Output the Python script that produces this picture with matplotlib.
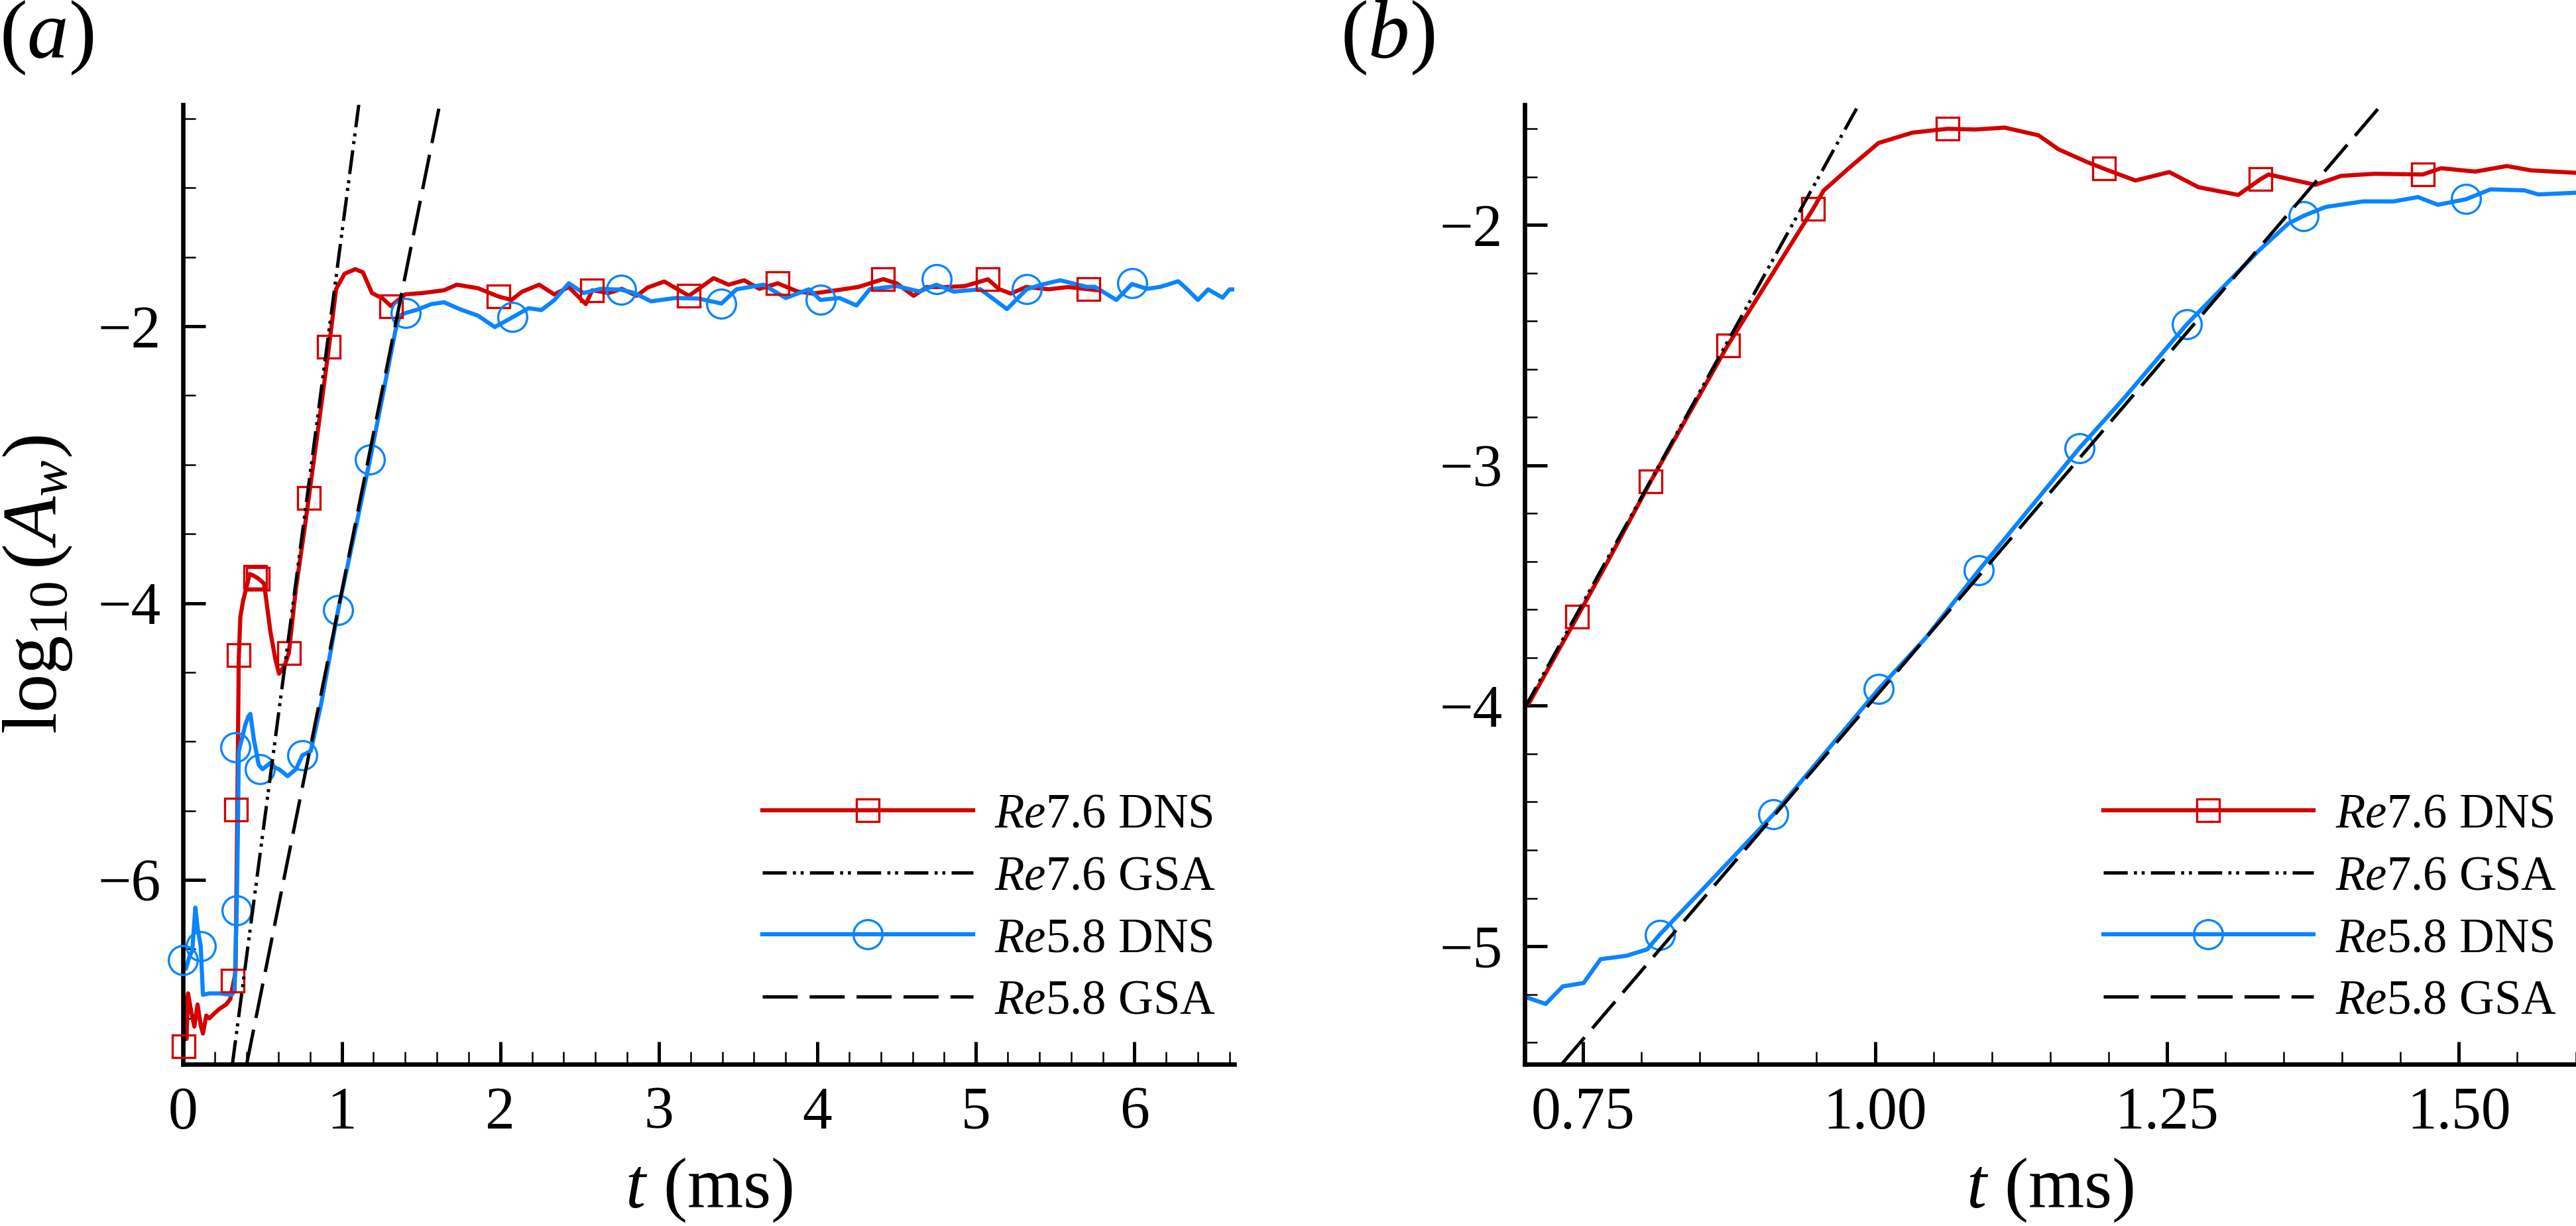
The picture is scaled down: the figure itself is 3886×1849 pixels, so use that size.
import matplotlib
matplotlib.use("Agg")
import matplotlib.pyplot as plt
from matplotlib.lines import Line2D
from matplotlib.ticker import MultipleLocator, FormatStrFormatter


# --- Style ---
plt.rcParams['font.family'] = ['Liberation Serif', 'DejaVu Serif']
plt.rcParams['mathtext.fontset'] = 'custom'
plt.rcParams['mathtext.rm'] = 'Liberation Serif'
plt.rcParams['mathtext.it'] = 'Liberation Serif:italic'
plt.rcParams['lines.scale_dashes'] = False

RED = '#d20000'
BLUE = '#0a84ff'
DASHDOTDOT = (0, (8.7, 2.25, 1.1, 1.7, 1.1, 2.25))
DASHED = (0, (12.7, 4.3))

# --- Data: panel (a) ---
re76_t_a = [0.0, 0.01, 0.02, 0.03, 0.05, 0.07, 0.09, 0.11, 0.124, 0.145, 0.164,
            0.20, 0.23, 0.27, 0.297, 0.31, 0.324, 0.33, 0.34, 0.35, 0.36, 0.377,
            0.40, 0.418, 0.44, 0.47, 0.51, 0.55, 0.58, 0.604, 0.64, 0.666, 0.711,
            0.764, 0.791, 0.86, 0.919, 0.964, 1.018, 1.085, 1.133, 1.19, 1.258,
            1.31, 1.40, 1.51, 1.645, 1.725, 1.858, 1.99, 2.07, 2.138, 2.245, 2.34,
            2.432, 2.539, 2.58, 2.684, 2.766, 2.86, 2.93, 3.034, 3.19, 3.345, 3.44,
            3.538, 3.634, 3.75, 3.875, 3.97, 4.163, 4.259, 4.415, 4.50, 4.607, 4.69,
            4.81, 4.93, 5.076, 5.148, 5.22, 5.316, 5.46, 5.58, 5.712, 5.77]
re76_v_a = [-7.22, -6.85, -7.15, -6.82, -6.95, -7.06, -6.90, -7.05, -7.11, -6.98, -7.00,
            -6.96, -6.93, -6.90, -6.86, -6.78, -6.70, -6.65, -5.60, -4.40, -4.10, -3.985,
            -3.88, -3.79, -3.80, -3.82, -3.86, -4.21, -4.40, -4.51, -4.45, -4.36, -3.89,
            -3.47, -3.243, -2.66, -2.149, -1.731, -1.62, -1.588, -1.61, -1.76, -1.80,
            -1.854, -1.77, -1.76, -1.74, -1.70, -1.725, -1.786, -1.81, -1.75, -1.70, -1.77,
            -1.717, -1.84, -1.74, -1.76, -1.73, -1.78, -1.72, -1.677, -1.78, -1.653, -1.70,
            -1.668, -1.73, -1.69, -1.749, -1.764, -1.733, -1.716, -1.66, -1.69, -1.78, -1.717,
            -1.717, -1.71, -1.661, -1.733, -1.764, -1.717, -1.733, -1.717, -1.733, -1.74]
re76_mk_t_a = [0.004, 0.31, 0.332, 0.35, 0.455, 0.47, 0.666, 0.791, 0.919, 1.31,
               1.99, 2.58, 3.19, 3.75, 4.415, 5.076, 5.712]
re76_mk_v_a = [-7.20, -6.73, -5.49, -4.376, -3.81, -3.825, -4.36, -3.243, -2.149, -1.854,
               -1.786, -1.74, -1.78, -1.69, -1.66, -1.661, -1.733]

re58_t_a = [0.0, 0.017, 0.04, 0.057, 0.076, 0.092, 0.11, 0.124, 0.164, 0.23, 0.305,
            0.324, 0.33, 0.337, 0.345, 0.35, 0.37, 0.391, 0.41, 0.423, 0.444, 0.476,
            0.50, 0.55, 0.58, 0.604, 0.658, 0.711, 0.751, 0.804, 0.871, 0.977, 1.085,
            1.178, 1.258, 1.338, 1.365, 1.404, 1.471, 1.565, 1.645, 1.751, 1.858,
            1.965, 2.077, 2.178, 2.259, 2.339, 2.432, 2.525, 2.632, 2.76, 2.846, 2.95,
            3.106, 3.25, 3.395, 3.49, 3.66, 3.80, 3.947, 4.019, 4.139, 4.247, 4.33,
            4.50, 4.643, 4.751, 4.86, 5.028, 5.196, 5.32, 5.412, 5.532, 5.70, 5.75,
            5.886, 5.984, 6.08, 6.165, 6.277, 6.333, 6.40, 6.465, 6.556, 6.60, 6.63]
re58_v_a = [-6.60, -6.64, -6.55, -6.51, -6.20, -6.36, -6.48, -6.83, -6.82, -6.82, -6.83,
            -6.80, -6.50, -6.22, -5.60, -5.07, -4.98, -4.88, -4.82, -4.80, -4.977, -5.17,
            -5.20, -5.154, -5.19, -5.20, -5.25, -5.20, -5.10, -5.07, -4.72, -4.05, -3.47,
            -2.963, -2.50, -2.033, -1.923, -1.904, -1.882, -1.84, -1.827, -1.88, -1.923,
            -2.006, -1.935, -1.87, -1.883, -1.813, -1.69, -1.76, -1.73, -1.736, -1.76, -1.82,
            -1.796, -1.80, -1.836, -1.733, -1.70, -1.796, -1.733, -1.81, -1.796, -1.85, -1.733,
            -1.71, -1.749, -1.70, -1.75, -1.733, -1.876, -1.733, -1.70, -1.668, -1.716, -1.715,
            -1.81, -1.695, -1.73, -1.715, -1.675, -1.734, -1.81, -1.734, -1.794, -1.734, -1.734]
re58_mk_t_a = [0.0, 0.11, 0.33, 0.337, 0.484, 0.751, 0.977, 1.178, 1.404, 2.077,
               2.76, 3.395, 4.019, 4.751, 5.32, 5.988]
re58_mk_v_a = [-6.58, -6.48, -5.04, -6.22, -5.20, -5.10, -4.05, -2.963, -1.904, -1.935,
               -1.736, -1.836, -1.81, -1.661, -1.733, -1.69]

gsa76_t_a = [0.31, 1.107]
gsa76_v_a = [-7.33, -0.40]
gsa58_t_a = [0.40, 1.617]
gsa58_v_a = [-7.33, -0.40]

# --- Data: panel (b) ---
re76_t_b = [0.7036, 0.745, 0.770, 0.808, 0.874, 0.947, 0.956, 0.978, 1.003, 1.032,
            1.062, 1.086, 1.111, 1.140, 1.157, 1.181, 1.196, 1.223, 1.252, 1.277,
            1.311, 1.330, 1.337, 1.377, 1.399, 1.428, 1.469, 1.485, 1.514, 1.541,
            1.562, 1.60]
re76_v_b = [-3.99, -3.63, -3.41, -3.066, -2.50, -1.933, -1.857, -1.762, -1.659, -1.616,
            -1.60, -1.603, -1.595, -1.627, -1.685, -1.737, -1.766, -1.815, -1.78, -1.843,
            -1.875, -1.81, -1.79, -1.833, -1.796, -1.787, -1.79, -1.764, -1.778, -1.755,
            -1.773, -1.783]
re76_mk_t_b = [0.745, 0.808, 0.874, 0.947, 1.062, 1.196, 1.330, 1.469]
re76_mk_v_b = [-3.63, -3.066, -2.50, -1.933, -1.60, -1.766, -1.81, -1.79]

re58_t_b = [0.7036, 0.718, 0.7327, 0.7505, 0.765, 0.787, 0.805, 0.8156, 0.852, 0.913,
            1.003, 1.043, 1.089, 1.175, 1.213, 1.267, 1.329, 1.354, 1.367, 1.386,
            1.418, 1.444, 1.465, 1.482, 1.506, 1.527, 1.556, 1.568, 1.60]
re58_v_b = [-5.216, -5.24, -5.167, -5.153, -5.054, -5.04, -5.013, -4.952, -4.766, -4.452,
            -3.931, -3.72, -3.436, -2.928, -2.722, -2.413, -2.105, -1.994, -1.962, -1.925,
            -1.902, -1.902, -1.884, -1.916, -1.893, -1.852, -1.856, -1.873, -1.866]
re58_mk_t_b = [0.8156, 0.913, 1.003, 1.089, 1.175, 1.267, 1.367, 1.506]
re58_mk_v_b = [-4.952, -4.452, -3.931, -3.436, -2.928, -2.413, -1.962, -1.893]

gsa76_t_b = [0.70, 0.986]
gsa76_v_b = [-4.01, -1.50]
gsa58_t_b = [0.7318, 1.433]
gsa58_v_b = [-5.49, -1.504]

legend_labels = [r'$Re$7.6 DNS', r'$Re$7.6 GSA', r'$Re$5.8 DNS', r'$Re$5.8 GSA']


# --- Helpers ---
def style_axes(ax):
    for side in ('top', 'right'):
        ax.spines[side].set_visible(False)
    for side in ('left', 'bottom'):
        ax.spines[side].set_linewidth(1.6)
    ax.tick_params(which='both', direction='in', top=False, right=False)
    ax.tick_params(which='major', length=8.2, width=1.2, labelsize=21.5, pad=8)
    ax.tick_params(which='minor', length=4.6, width=0.6)


def draw_panel(ax, d):
    ax.plot(d['r_t'], d['r_v'], color=RED, lw=1.5, zorder=2)
    ax.plot(d['b_t'], d['b_v'], color=BLUE, lw=1.5, zorder=2)
    ax.plot(d['r_mt'], d['r_mv'], ls='none', marker='s', ms=8, mfc='none',
            mec=RED, mew=0.8, zorder=3, clip_on=False)
    ax.plot(d['b_mt'], d['b_mv'], ls='none', marker='o', ms=10.5, mfc='none',
            mec=BLUE, mew=0.8, zorder=3, clip_on=False)
    ax.plot(d['g76_t'], d['g76_v'], color='black', lw=1.2, ls=DASHDOTDOT, zorder=4)
    ax.plot(d['g58_t'], d['g58_v'], color='black', lw=1.2, ls=DASHED, zorder=4)


def add_legend(ax, x0, y0):
    handles = [
        Line2D([0], [0], color=RED, lw=1.5, marker='s', ms=8, mfc='none', mec=RED, mew=0.8),
        Line2D([0], [0], color='black', lw=1.2, ls=DASHDOTDOT),
        Line2D([0], [0], color=BLUE, lw=1.5, marker='o', ms=10.5, mfc='none', mec=BLUE, mew=0.8),
        Line2D([0], [0], color='black', lw=1.2, ls=DASHED),
    ]
    ax.legend(handles, legend_labels, loc='upper left', bbox_to_anchor=(x0, y0),
              frameon=False, fontsize=17.5, handlelength=4.36, handletextpad=0.44,
              labelspacing=0.36, borderpad=0, borderaxespad=0)


# --- Figure ---
fig = plt.figure(figsize=(3886 / 300, 1849 / 300), dpi=300)
ax_a = fig.add_axes([0.07115, 0.13213, 0.40801, 0.78242])
ax_b = fig.add_axes([0.59187, 0.13213, 0.40801, 0.78242])

draw_panel(ax_a, dict(r_t=re76_t_a, r_v=re76_v_a, b_t=re58_t_a, b_v=re58_v_a,
                      r_mt=re76_mk_t_a, r_mv=re76_mk_v_a, b_mt=re58_mk_t_a, b_mv=re58_mk_v_a,
                      g76_t=gsa76_t_a, g76_v=gsa76_v_a, g58_t=gsa58_t_a, g58_v=gsa58_v_a))
draw_panel(ax_b, dict(r_t=re76_t_b, r_v=re76_v_b, b_t=re58_t_b, b_v=re58_v_b,
                      r_mt=re76_mk_t_b, r_mv=re76_mk_v_b, b_mt=re58_mk_t_b, b_mv=re58_mk_v_b,
                      g76_t=gsa76_t_b, g76_v=gsa76_v_b, g58_t=gsa58_t_b, g58_v=gsa58_v_b))

# panel (a) axes
ax_a.set_xlim(0, 6.63)
ax_a.set_ylim(-7.33, -0.40)
ax_a.xaxis.set_major_locator(MultipleLocator(1))
ax_a.xaxis.set_minor_locator(MultipleLocator(0.2))
ax_a.yaxis.set_major_locator(MultipleLocator(2))
ax_a.yaxis.set_minor_locator(MultipleLocator(0.5))
style_axes(ax_a)
ax_a.set_xlabel(r'$t$ (ms)', fontsize=26, va='center')
ax_a.xaxis.set_label_coords(0.5, -0.1315)
ax_a.set_ylabel(r'$\mathrm{log}_{10}\,(A_w)$', fontsize=28, va='center')
ax_a.yaxis.set_label_coords(-0.1384, 0.5)

# panel (b) axes
ax_b.set_xlim(0.70, 1.60)
ax_b.set_ylim(-5.49, -1.50)
ax_b.xaxis.set_major_locator(MultipleLocator(0.25))
ax_b.xaxis.set_minor_locator(MultipleLocator(0.05))
ax_b.xaxis.set_major_formatter(FormatStrFormatter('%.2f'))
ax_b.yaxis.set_major_locator(MultipleLocator(1))
ax_b.yaxis.set_minor_locator(MultipleLocator(0.2))
style_axes(ax_b)
ax_b.set_xlabel(r'$t$ (ms)', fontsize=26, va='center')
ax_b.xaxis.set_label_coords(0.5, -0.1315)

add_legend(ax_a, 0.5509, 0.2825)
add_legend(ax_b, (3172.5 - 2300) / 1585.5, 0.2825)

fig.text(70 / 3886, 1 - 57 / 1849, r'($a$)', fontsize=30, ha='center', va='center')
fig.text(2093 / 3886, 1 - 57 / 1849, r'($b$)', fontsize=30, ha='center', va='center')

fig.savefig('out.png', dpi=300)
